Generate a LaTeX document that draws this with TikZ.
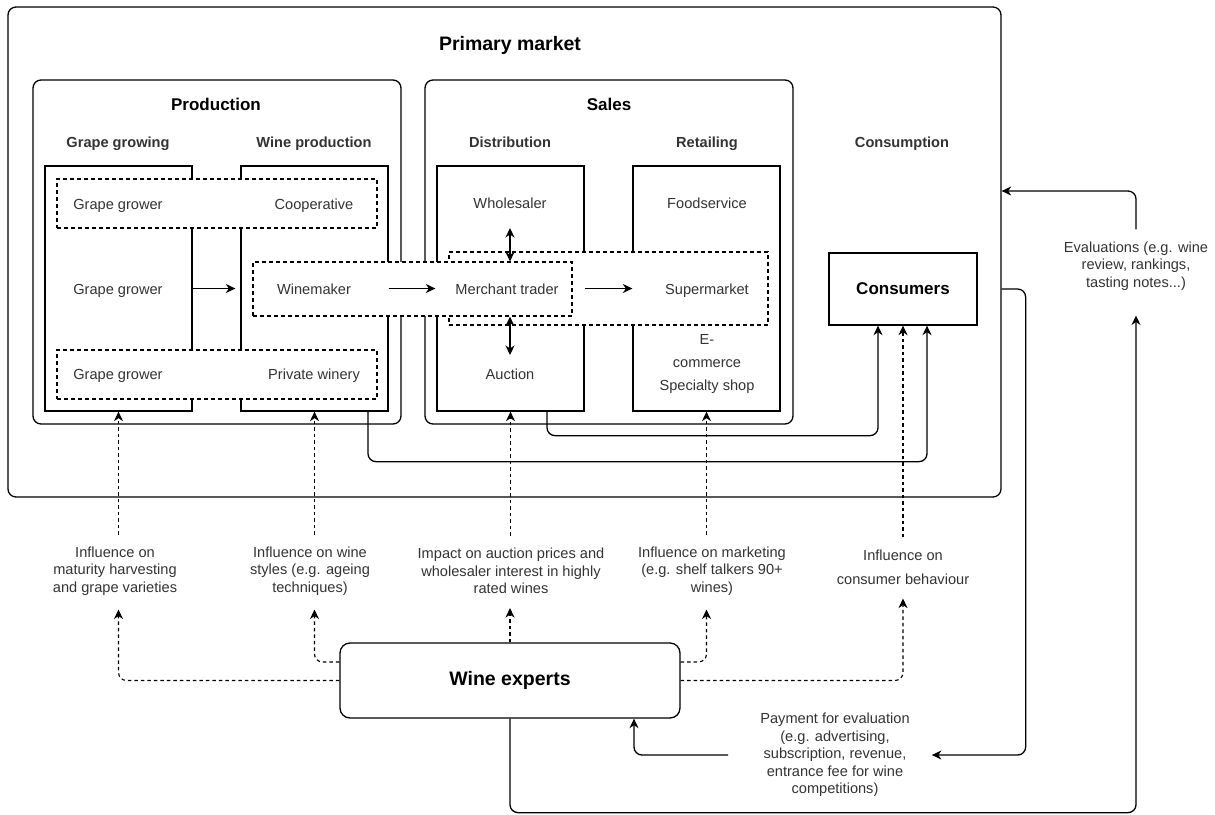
\documentclass[tikz,border=0pt]{standalone}
\usepackage{fontspec}
\setmainfont{Liberation Sans}
\usetikzlibrary{arrows.meta}
\definecolor{txtgray}{HTML}{333333}

\begin{document}
\begin{tikzpicture}[x=1pt,y=-1pt,
    plainbox/.style={draw,line width=1.3pt,fill=white,inner sep=0pt},
    stagebox/.style={plainbox,rounded corners=8pt},
    dbox/.style={draw,line width=1.2pt,dash pattern=on 4pt off 3pt,fill=white,inner sep=0pt},
    lbl/.style={text=txtgray,font=\fontsize{14.6}{17.5}\selectfont,align=center,inner sep=2pt},
    oneline/.style={lbl,text height=13pt,text depth=0pt},
    colhead/.style={text=txtgray,font=\fontsize{14.6}{17.5}\selectfont\bfseries,text height=13pt,text depth=0pt},
    ttl/.style={font=\fontsize{19.5}{22}\selectfont\bfseries},
    subttl/.style={font=\fontsize{17}{20}\selectfont\bfseries},
    flow/.style={line width=1.3pt,-{Stealth[length=9.5pt,width=9pt,inset=3pt]}},
    twoway/.style={line width=1.3pt,{Stealth[length=9.5pt,width=9pt,inset=3pt]}-{Stealth[length=9.5pt,width=9pt,inset=3pt]}},
    infl/.style={line width=1.1pt,dash pattern=on 3.5pt off 3pt,-{Stealth[length=9.5pt,width=9pt,inset=3pt]}},
    roundpath/.style={rounded corners=8pt}]
  \useasboundingbox (0,0) rectangle (1215,814);

  % frames
  \node[stagebox,minimum width=993,minimum height=490] (primary) at (504.5,252) {}; % primary market
  \node[ttl] (primaryttl) at (510,45) {Primary market};
  \node[stagebox,minimum width=368,minimum height=344] (production) at (217,252) {};
  \node[stagebox,minimum width=368,minimum height=344] (sales) at (609,252) {};
  \node[subttl] (productionttl) at (216,104) {Production};
  \node[subttl] (salesttl) at (609,104) {Sales};

  % column headings
  \node[colhead] (grapehd) at (118,141) {Grape growing};
  \node[colhead] (winehd) at (314,141) {Wine production};
  \node[colhead] (disthd) at (510,141) {Distribution};
  \node[colhead] (retailhd) at (707,141) {Retailing};
  \node[colhead] (conshd) at (902,141) {Consumption};

  % columns
  \foreach \n/\x in {grapecol/118.5,winecol/314.5,distcol/510.5,retailcol/706.5}
    \node[plainbox,minimum width=147,minimum height=245] (\n) at (\x,288.5) {};

  % dashed groupings
  \node[dbox,minimum width=320,minimum height=49] (coopbox) at (217,203.5) {};
  \node[dbox,minimum width=320,minimum height=49] (privbox) at (217,374.5) {};
  \node[dbox,minimum width=319,minimum height=73] (superbox) at (608.5,288.5) {};
  \node[dbox,minimum width=319,minimum height=54] (merchbox) at (412.5,289) {};

  % actors
  \node[oneline] (growertop) at (118,203) {Grape grower};
  \node[oneline] (coop) at (314,203) {Cooperative};
  \node[oneline] (growermid) at (118,288) {Grape grower};
  \node[oneline] (winemaker) at (314,288) {Winemaker};
  \node[oneline] (growerbot) at (118,373) {Grape grower};
  \node[oneline] (private) at (314,373) {Private winery};
  \node[oneline] (wholesaler) at (510,202) {Wholesaler};
  \node[oneline] (merchant) at (507,288) {Merchant trader};
  \node[oneline] (auction) at (510,373) {Auction};
  \node[oneline] (foodservice) at (707,202) {Foodservice};
  \node[oneline] (supermarket) at (707,288) {Supermarket};
  \node[lbl,font=\fontsize{14.6}{23}\selectfont] (ecommerce) at (707,364) {E-\\commerce\\Specialty shop};
  \node[plainbox,subttl,minimum width=148,minimum height=72] (consumers) at (903,289) {Consumers};

  % flows in the market
  \draw[flow] (grapecol.east) -- ([xshift=-5pt]winecol.west); % grapes to winemaker
  \draw[flow] (winecol.east) -- ([xshift=-1pt]distcol.west);
  \draw[flow] (distcol.east) -- (retailcol.west);
  \draw[twoway] ([yshift=-26pt]wholesaler.center) -- (wholesaler |- merchbox.north);
  \draw[twoway] (auction |- merchbox.south) -- ([yshift=18pt]auction.center);
  \draw[flow,roundpath] ([xshift=36.5pt]distcol.south) -- ++(0,24) -| ([xshift=-25pt]consumers.south);
  \draw[flow,roundpath] ([xshift=53.5pt]winecol.south) -- ++(0,50) -| ([xshift=24pt]consumers.south);

  % influence labels
  \node[lbl] (inflgrape) at (115,571) {Influence on\\maturity harvesting\\and grape varieties};
  \node[lbl] (inflwine) at (310,571) {Influence on wine\\styles (e.g. ageing\\techniques)};
  \node[lbl] (inflauction) at (511,571) {Impact on auction prices and\\wholesaler interest in highly\\rated wines};
  \node[lbl] (inflmarket) at (712,571) {Influence on marketing\\(e.g. shelf talkers 90+\\wines)};
  \node[lbl,font=\fontsize{14.6}{24}\selectfont] (inflcons) at (903,567) {Influence on\\consumer behaviour};

  \draw[infl,shorten <=10pt] (grapecol |- inflgrape.north) -- (grapecol.south);
  \draw[infl,shorten <=10pt] (winecol |- inflwine.north) -- (winecol.south);
  \draw[infl,shorten <=10pt] (distcol |- inflauction.north) -- (distcol.south);
  \draw[infl,shorten <=10pt] (retailcol |- inflmarket.north) -- (retailcol.south);
  \draw[infl,shorten <=10pt] (consumers |- inflcons.north) -- (consumers.south);

  % wine experts
  \node[stagebox,ttl,rounded corners=10pt,minimum width=340,minimum height=75] (experts) at (510,680.5) {Wine experts};
  \draw[infl,roundpath,shorten >=12pt] (experts.west) -| (grapecol |- inflgrape.south);
  \draw[infl,roundpath,shorten >=12pt] ([yshift=18.5pt]experts.west) -| (winecol |- inflwine.south);
  \draw[infl,shorten >=12pt] (experts.north) -- (experts |- inflauction.south);
  \draw[infl,roundpath,shorten >=12pt] ([yshift=18.5pt]experts.east) -| (retailcol |- inflmarket.south);
  \draw[infl,roundpath,shorten >=12pt] (experts.east) -| (consumers |- inflcons.south);

  % payment and evaluations
  \node[lbl] (payment) at (835,755) {Payment for evaluation\\(e.g. advertising,\\subscription, revenue,\\entrance fee for wine\\competitions)};
  \node[lbl] (evals) at (1136,266) {Evaluations (e.g. wine\\review, rankings,\\tasting notes...)};
  \draw[flow,roundpath,shorten <=30pt] (payment.west) -| ([xshift=124pt]experts.south);
  \draw[flow,roundpath,shorten >=20pt] (primary.east |- consumers) -- ++(24,0) |- (payment.east);
  \draw[flow,roundpath,shorten >=23pt] (experts.south) -- ++(0,94) -| (evals.south);
  \draw[flow,roundpath,shorten <=10pt] (evals.north) |- ([yshift=61pt]primary.east);
\end{tikzpicture}
\end{document}
